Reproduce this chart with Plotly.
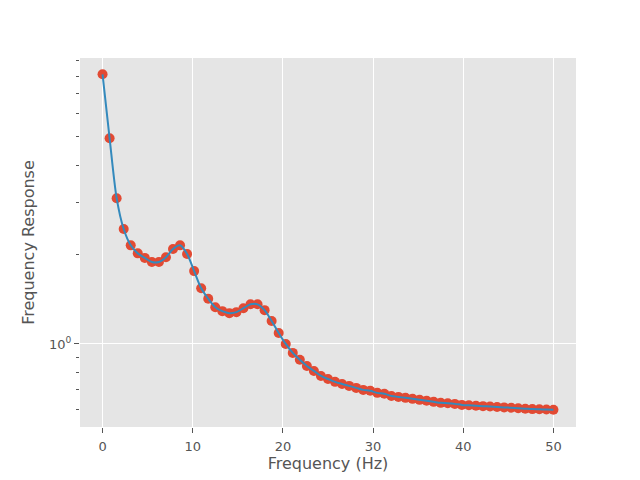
import plotly.graph_objects as go

n_points = 65
freq = [i * 50 / 64 for i in range(n_points)]
response = [
    8.11, 4.94, 3.10, 2.44, 2.15, 2.02, 1.95, 1.89, 1.89, 1.96,
    2.09, 2.15, 2.01, 1.76, 1.54, 1.42, 1.33, 1.29, 1.27, 1.28,
    1.32, 1.36, 1.36, 1.30, 1.195, 1.089, 1.0, 0.933, 0.884, 0.843,
    0.811, 0.780, 0.762, 0.745, 0.733, 0.722, 0.711, 0.700, 0.695, 0.684,
    0.679, 0.668, 0.663, 0.658, 0.653, 0.648, 0.643, 0.638, 0.633, 0.631,
    0.628, 0.623, 0.621, 0.619, 0.617, 0.615, 0.613, 0.611, 0.609, 0.607,
    0.605, 0.603, 0.602, 0.601, 0.600,
]

x_ticks = [0, 10, 20, 30, 40, 50]
y_ticks = [1]
y_tick_text = ["10<sup>0</sup>"]
y_minor = [0.6, 0.7, 0.8, 0.9, 2, 3, 4, 5, 6, 7, 8, 9]

fig = go.Figure()
fig.add_trace(go.Scatter(
    x=freq, y=response, mode="markers",
    marker=dict(color="#E24A33", size=10, line=dict(width=0)),
    showlegend=False,
))
fig.add_trace(go.Scatter(
    x=freq, y=response, mode="lines",
    line=dict(color="#348ABD", width=2, shape="spline", smoothing=0.8),
    showlegend=False,
))

font_family = "DejaVu Sans"
fig.update_layout(
    width=640, height=480,
    margin=dict(l=80, r=64, t=58, b=53),
    paper_bgcolor="white",
    plot_bgcolor="#E5E5E5",
    font=dict(family=font_family, color="#555555"),
    xaxis=dict(
        range=[-2.5, 52.5],
        tickvals=x_ticks,
        ticks="outside", ticklen=5, tickwidth=1, tickcolor="#555555",
        tickfont=dict(size=13, color="#555555"),
        ticklabelstandoff=2,
        showgrid=True, gridcolor="white", gridwidth=1,
        zeroline=False, showline=False,
        title=dict(text="Frequency (Hz)", font=dict(size=16, color="#555555"), standoff=5),
        automargin=False,
    ),
    yaxis=dict(
        type="log",
        range=[-0.280, 0.964],
        tickvals=y_ticks, ticktext=y_tick_text,
        ticks="outside", ticklen=5, tickwidth=1, tickcolor="#555555",
        tickfont=dict(size=13, color="#555555"),
        showgrid=True, gridcolor="white", gridwidth=1,
        zeroline=False, showline=False,
        minor=dict(tickmode="array", tickvals=y_minor, ticks="outside",
                   ticklen=3, tickwidth=1, tickcolor="#555555", showgrid=False),
        title=dict(text="Frequency Response", font=dict(size=16, color="#555555"), standoff=10),
        automargin=False,
    ),
)

fig.write_html("out.html")
